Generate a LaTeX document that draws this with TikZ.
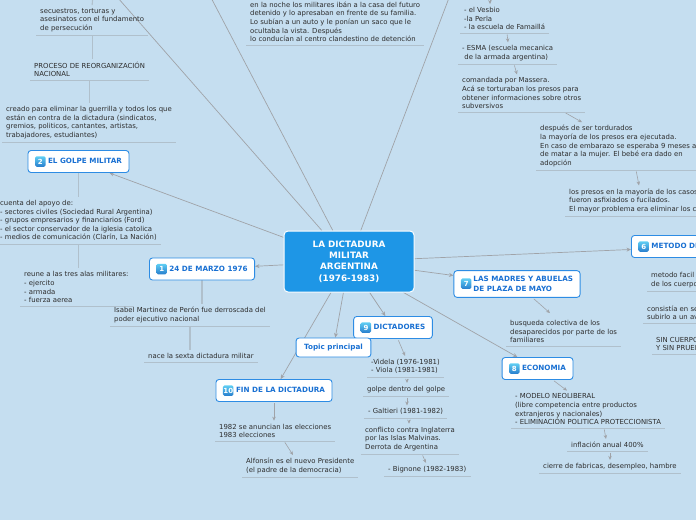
\documentclass[tikz,border=0pt]{standalone}
\usepackage{fontspec}
\setmainfont{DejaVu Sans}
\usepackage{tikz}
\usetikzlibrary{arrows.meta,positioning,calc}
\usepackage{xcolor}

\definecolor{mapbg}{RGB}{197,222,240}
\definecolor{mainblue}{RGB}{30,150,230}
\definecolor{topicblue}{RGB}{45,140,228}
\definecolor{titleblue}{RGB}{25,112,210}
\definecolor{linegray}{RGB}{160,163,168}
\definecolor{rulegray}{RGB}{176,192,204}
\definecolor{leaftext}{RGB}{45,45,45}

\pgfdeclarelayer{bgfill}
\pgfdeclarelayer{links}
\pgfsetlayers{bgfill,links,main}

\newcommand{\leaffont}{\fontsize{6.9}{8.6}\selectfont}
\newcommand{\numicon}[1]{\tikz[baseline=-0.55ex]\node[numbox]{#1};}

\begin{document}
\begin{tikzpicture}[x=1pt, y=-1pt,
    conn/.style={linegray, line width=0.7pt, -{Stealth[length=4.5pt,width=4pt]}},
    stem/.style={rulegray, line width=1.1pt},
    sarr/.style={linegray, line width=0.6pt, shorten <=1.5pt, -{Stealth[length=4pt,width=3.5pt]}},
    leaf/.style={anchor=south west, align=left, inner xsep=4pt, inner ysep=3pt,
      text=leaftext, font=\leaffont,
      append after command={(\tikzlastnode.south west) edge[rulegray, line width=1pt] (\tikzlastnode.south east)}},
    topic/.style={draw=topicblue, line width=0.9pt, fill=white, rounded corners=3pt,
      text=titleblue, font=\fontsize{7.2}{10}\selectfont\bfseries, inner xsep=7pt, minimum height=22pt},
    centre/.style={draw=white, line width=1pt, fill=mainblue, rounded corners=4pt, text=white,
      font=\fontsize{8.8}{11.3}\selectfont\bfseries, align=center, minimum width=130pt, minimum height=61pt},
    numbox/.style={rounded corners=1.5pt, top color=topicblue!60!cyan!70, bottom color=topicblue!90!black,
      text=white, font=\fontsize{7}{7}\selectfont\bfseries, inner sep=0pt, minimum size=10.5pt}]

    \useasboundingbox (0,0) rectangle (696,520);
    \begin{pgfonlayer}{bgfill}
      \fill[mapbg] (0,0) rectangle (696,520);
    \end{pgfonlayer}

    % main topic
    \node[centre] (C) at (349,261.5) {LA DICTADURA\\MILITAR\\ARGENTINA\\(1976-1983)};

    % ends of links running out of the picture
    \coordinate (T1) at (111,-10);
    \coordinate (T2) at (207,-10);
    \coordinate (T3) at (452,-10);
    \coordinate (LT) at (93,-6);
    \coordinate (VT) at (490,-6);

    % branches
    \node[topic] (B1) at (202,269) {\numicon{1} 24 DE MARZO 1976};
    \node[topic] (B2) at (78.5,161.5) {\numicon{2} EL GOLPE MILITAR};
    \node[topic, anchor=west] (B6) at (631,246.5) {\numicon{6} METODO DE DESAPARICIÓN};
    \node[topic] (B7) at (517,284) {\numicon{7}\hspace{2pt}\begin{tabular}{@{}l@{}}LAS MADRES Y ABUELAS\\DE PLAZA DE MAYO\end{tabular}};
    \node[topic] (B8) at (537.5,368.5) {\numicon{8} ECONOMIA};
    \node[topic] (B9) at (393,327.5) {\numicon{9} DICTADORES};
    \node[topic] (B10) at (274,390.5) {\numicon{10} FIN DE LA DICTADURA};
    \node[topic, minimum height=19pt, inner xsep=8pt] (TP) at (333.5,347.5) {Topic principal};

    % texts, left column
    \node[leaf] (L1) at (36,35) {secuestros, torturas y\\asesinatos con el fundamento\\de persecución};
    \node[leaf] (L2) at (30,80) {PROCESO DE REORGANIZACIÓN\\NACIONAL};
    \node[leaf] (L3) at (2,142) {creado para eliminar la guerrilla y todos los que\\están en contra de la dictadura (sindicatos,\\gremios, politicos, cantantes, artistas,\\trabajadores, estudiantes)};
    \node[leaf] (B2T1) at (-4,244) {cuenta del apoyo de:\\- sectores civiles (Sociedad Rural Argentina)\\- grupos empresarios y financiarios (Ford)\\- el sector conservador de la iglesia catolica\\- medios de comunicación (Clarín, La Nación)};
    \node[leaf] (B2T2) at (20,306) {reune a las tres alas militares:\\- ejercito\\- armada\\- fuerza aerea};
    \node[leaf] (B1T1) at (110,326) {Isabel Martinez de Perón fue derroscada del\\poder ejecutivo nacional};
    \node[leaf] (B1T2) at (144,362) {nace la sexta dictadura militar};

    % texts, top
    \node[leaf] (N) at (246,45) {en la noche los militares ibán a la casa del futuro\\detenido y lo apresaban en frente de su familia.\\Lo subían a un auto y le ponían un saco que le\\ocultaba la vista. Después\\lo conducían al centro clandestino de detención};
    \node[leaf] (V) at (460,33) {- el Vesbio\\-la Perla\\- la escuela de Famaillá};
    \node[leaf] (E) at (458,64) {- ESMA (escuela mecanica\\\ de la armada argentina)};
    \node[leaf] (M) at (458,112) {comandada por Massera.\\Acá se torturaban los presos para\\obtener informaciones sobre otros\\subversivos};
    \node[leaf] (D) at (536,170) {después de ser tordurados\\la mayoría de los presos era ejecutada.\\En caso de embarazo se esperaba 9 meses antes\\de matar a la mujer. El bebé era dado en\\adopción};
    \node[leaf] (P) at (565,216) {los presos en la mayoría de los casos\\fueron asfixiados o fucilados.\\El mayor problema era eliminar los cuerpos};

    % texts, right
    \node[leaf] (B6T1) at (647,291) {metodo facil para deshacerse\\de los cuerpos};
    \node[leaf] (B6T2) at (643,323) {consistía en sedarlo y\\subirlo a un avión};
    \node[leaf] (B6T3) at (652,354) {SIN CUERPO\\Y SIN PRUEBAS};
    \node[leaf] (B7T1) at (506,346) {busqueda colectiva de los\\desaparecidos por parte de los\\familiares};
    \node[leaf] (B8T1) at (511,428) {- MODELO NEOLIBERAL\\(libre competencia entre productos\\extranjeros y nacionales)\\- ELIMINACIÓN POLITICA PROTECCIONISTA};
    \node[leaf] (B8T2) at (567,451) {inflación anual 400\%};
    \node[leaf] (B8T3) at (539,473) {cierre de fabricas, desempleo, hambre};

    % texts, bottom
    \node[leaf] (B9T1) at (367,377) {-Videla (1976-1981)\\- Viola (1981-1981)};
    \node[leaf] (B9T2) at (363,396) {golpe dentro del golpe};
    \node[leaf] (B9T3) at (364,418) {- Galtieri (1981-1982)};
    \node[leaf] (B9T4) at (361,454) {conflicto contra Inglaterra\\por las Islas Malvinas.\\Derrota de Argentina};
    \node[leaf] (B9T5) at (384,476) {- Bignone (1982-1983)};
    \node[leaf] (B10T1) at (215,441) {1982 se anuncian las elecciones\\1983 elecciones};
    \node[leaf] (B10T2) at (242,477) {Alfonsín es el nuevo Presidente\\(el padre de la democracia)};

    \begin{pgfonlayer}{links}
      \draw[conn] (C) -- (T1);
      \draw[conn] (C) -- (T2);
      \draw[conn] (C) -- (T3);
      \draw[conn] (C) -- (B1);
      \draw[conn] (C) -- (B2);
      \draw[conn] (C) -- (B6);
      \draw[conn] (C) -- (B7);
      \draw[conn] (C) -- (B8);
      \draw[conn] (C) -- (B9);
      \draw[conn] (C) -- (B10);
      \draw[conn] (C) -- (TP);

      \draw[stem] (LT) -- (L1.north);
      \draw[stem] (L1.south) -- (L1.south |- L2.north);
      \draw[stem] (L2.south) -- (L2.south |- L3.north);
      \draw[stem] (B2.south) -- (B2.south |- B2T1.north);
      \draw[stem] (B2T1.south) -- (B2T1.south |- B2T2.north);
      \draw[stem] (B1.south) -- (B1.south |- B1T1.north);
      \draw[stem] (B1T1.south) -- (B1T1.south |- B1T2.north);

      \draw[sarr] (VT) -- (V.north -| VT);
      \draw[sarr] ([xshift=47pt]V.south west) -- ([xshift=50pt]E.north west);
      \draw[sarr] ([xshift=56pt]E.south west) -- ([xshift=59pt]M.north west);
      \draw[sarr] ([xshift=106pt]M.south west) -- ([xshift=46pt]D.north west);
      \draw[sarr] ([xshift=100pt]D.south west) -- ([xshift=74pt]P.north west);
      \draw[sarr] (B7) -- ([xshift=44pt,yshift=4pt]B7T1.north west);
      \draw[sarr] (B8) -- ([xshift=56pt]B8T1.north west);
      \draw[sarr] ([xshift=93pt]B8T1.south west) -- ([xshift=39pt]B8T2.north west);
      \draw[sarr] ([xshift=43pt]B8T2.south west) -- ([xshift=71pt]B8T3.north west);
      \draw[sarr] (B9) -- ([xshift=38pt]B9T1.north west);
      \draw[sarr] ([xshift=40pt]B9T1.south west) -- ([xshift=44pt]B9T2.north west);
      \draw[sarr] ([xshift=44pt]B9T2.south west) -- ([xshift=43pt]B9T3.north west);
      \draw[sarr] ([xshift=45pt]B9T3.south west) -- ([xshift=48pt]B9T4.north west);
      \draw[sarr] ([xshift=61pt]B9T4.south west) -- ([xshift=42pt]B9T5.north west);
      \draw[sarr] (B10) -- (B10.south |- B10T1.north);
      \draw[sarr] ([xshift=69pt]B10T1.south west) -- ([xshift=51pt]B10T2.north west);
    \end{pgfonlayer}
\end{tikzpicture}
\end{document}
